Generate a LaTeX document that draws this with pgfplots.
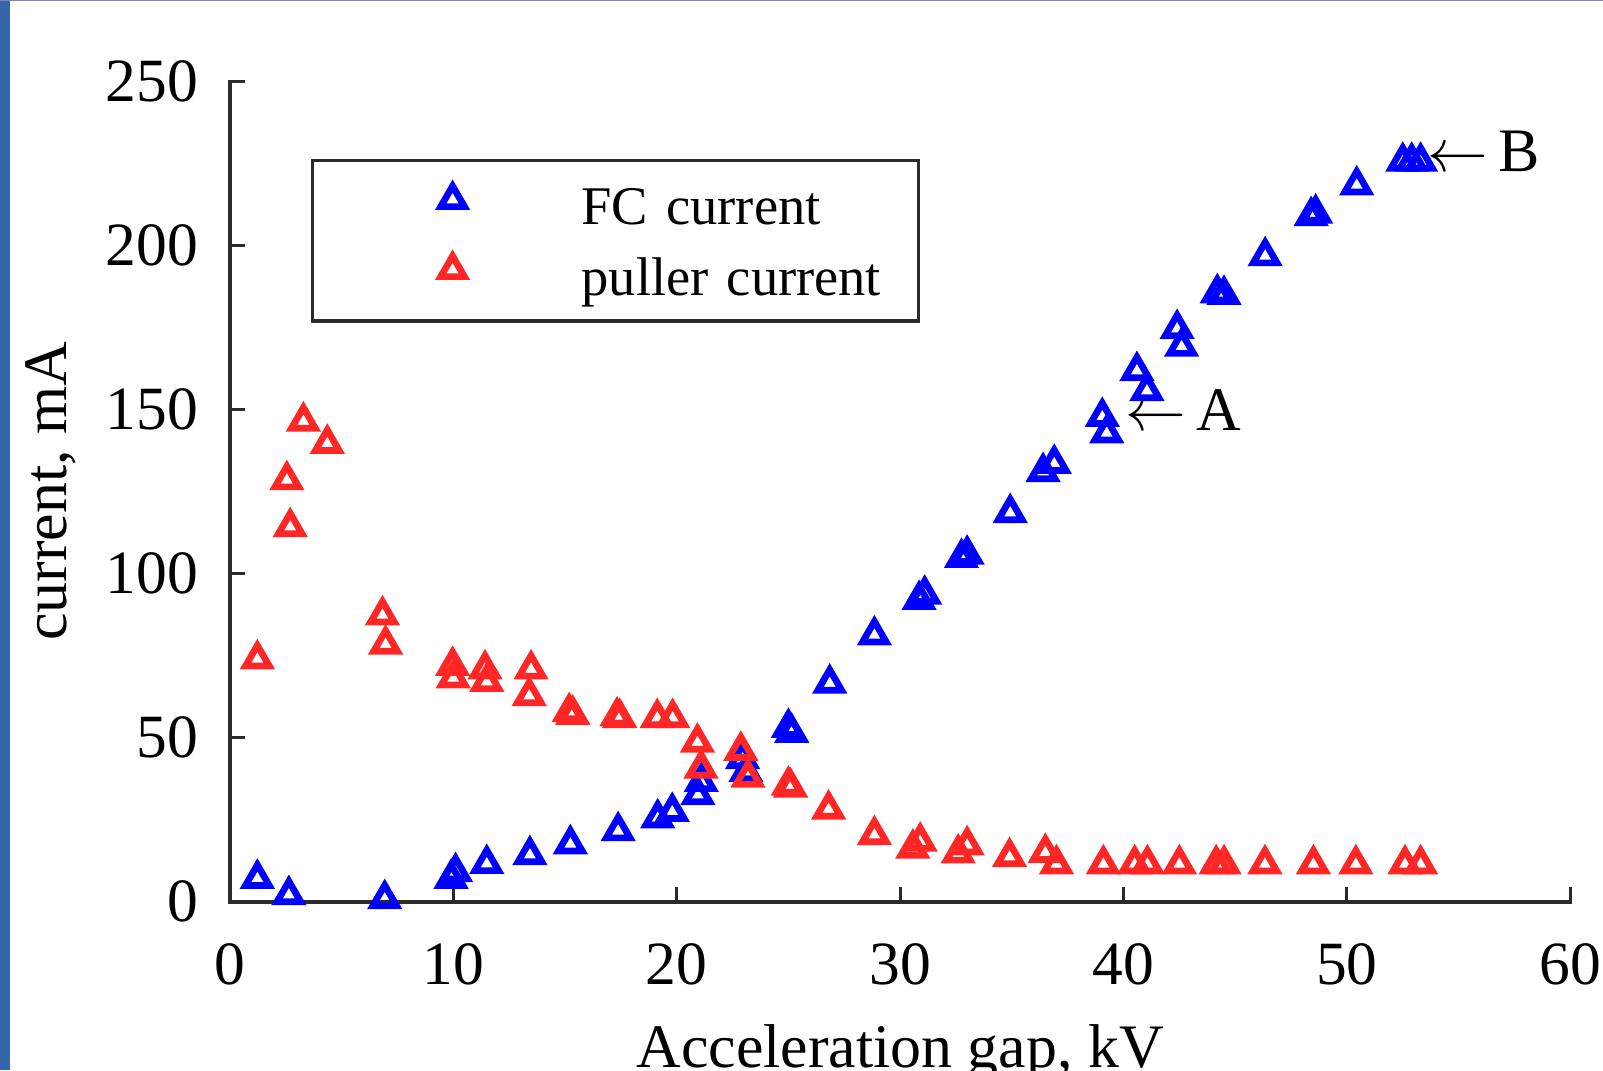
\documentclass[border=0pt]{standalone}
\usepackage{fontspec}
\setmainfont{Liberation Serif}
\usepackage{pgfplots}
\pgfplotsset{compat=1.18}
\definecolor{fcblue}{RGB}{0,0,255}
\definecolor{pulred}{RGB}{255,38,38}
\definecolor{axisgray}{RGB}{43,43,43}
\definecolor{barblue}{RGB}{52,102,168}
\definecolor{toppurple}{RGB}{140,125,190}

\pgfplotstableread{
x y
1.23 7.0
2.64 2.0
6.93 0.8
9.9 7.0
10.1 9.0
11.5 11.5
13.43 14.2
15.24 17.5
17.38 21.5
19.15 25.4
19.8 27.4
20.95 32.5
21.1 36.5
22.95 43.5
23.1 39.5
25.0 53.0
25.15 51.5
26.85 66.5
28.85 81.2
30.85 92.0
31.1 93.6
32.75 104.8
33.0 105.8
34.93 118.5
36.4 131.0
36.9 133.5
39.05 147.8
39.25 142.8
40.6 161.8
41.05 155.7
42.4 174.6
42.6 169.2
44.2 185.5
44.5 185.0
46.34 196.8
48.4 209.0
48.6 209.8
50.44 218.4
52.5 225.6
52.9 225.6
53.3 225.6
}\fctable

\pgfplotstableread{
x y
1.23 73.9
2.55 128.5
2.7 114.2
3.29 146.4
4.36 139.6
6.83 87.3
6.97 78.4
9.97 71.9
10.0 68.1
11.42 70.8
11.5 67.0
13.48 70.8
13.4 62.7
15.19 57.8
15.35 57.0
17.33 56.5
17.45 56.0
19.13 56.0
19.82 56.0
20.93 48.5
21.09 40.6
22.87 46.0
23.19 37.8
25.0 35.4
25.1 34.8
26.8 28.1
28.85 20.3
30.57 16.2
30.9 18.3
32.6 14.7
33.0 17.2
34.9 13.6
36.5 14.9
37.0 11.4
39.1 11.4
40.5 11.4
41.07 11.4
42.5 11.4
44.15 11.4
44.5 11.4
46.33 11.4
48.5 11.4
50.4 11.4
52.6 11.4
53.3 11.4
}\pultable

\begin{document}
\begin{tikzpicture}
\begin{axis}[
  at={(0,0)}, anchor=south west,
  scale only axis, width=13.404cm, height=8.2cm,
  xmin=0, xmax=60, ymin=0, ymax=250,
  clip=false,
  axis x line*=bottom, axis y line*=left,
  axis line style={draw=axisgray, line width=0.04cm, line cap=rect},
  tick align=inside, major tick length=0.15cm,
  every tick/.style={draw=axisgray, line width=0.03cm},
  xtick={0,10,...,60}, ytick={0,50,...,250},
  /pgf/number format/assume math mode=true,
  ticklabel style={font=\fontsize{17.5}{21}\selectfont, inner sep=0pt},
  yticklabel style={anchor=east, xshift=-0.31cm},
  xticklabel style={anchor=north, yshift=-0.415cm},
  xlabel={Acceleration gap, kV},
  ylabel={current, mA},
  label style={font=\fontsize{17.6}{21}\selectfont, inner sep=0pt},
  xlabel style={at={(axis description cs:0.5,-0.2030)}, anchor=base},
  ylabel style={at={(axis description cs:-0.1218,0.5)}, anchor=base},
  legend cell align=left,
  legend style={at={(axis description cs:0.06162,0.90348)}, anchor=north west,
    name=lgd,
    draw=none, inner xsep=0pt, inner ysep=0.124cm,
    row sep=0.14cm, column sep=0pt,
    font=\fontsize{15.5}{19}\selectfont,
    nodes={text width=3.36cm, inner sep=0pt}},
  legend image code/.code={
    \path[draw=none, fill=none] (-1.394cm,-0.21cm) rectangle (1.29cm,0.35cm);
    \draw[#1] plot coordinates {(0cm,0.09cm)};
  },
]
\addplot[only marks, mark=triangle, mark size=3.9pt, draw=fcblue,
  mark options={draw=fcblue, fill=none, line width=1.9pt}] table[x=x,y=y] {\fctable};
\addlegendentry{FC current}
\addplot[only marks, mark=triangle, mark size=3.9pt, draw=pulred,
  mark options={draw=pulred, fill=none, line width=1.9pt}] table[x=x,y=y] {\pultable};
\addlegendentry{puller current}
\node[anchor=base west, inner sep=0pt, font=\fontsize{17.6}{21}\selectfont] at (axis cs:40.05,143.75) {$\leftarrow$\kern0.17em A};
\node[anchor=base west, inner sep=0pt, font=\fontsize{17.6}{21}\selectfont] at (axis cs:53.56,222.7) {$\leftarrow$\kern0.17em B};
\end{axis}
\draw[axisgray, line width=0.033cm] (lgd.north west) rectangle ([yshift=-0.075cm]lgd.south east);
\fill[barblue] (-2.299,-1.685) rectangle (-2.199,9.015);
\fill[toppurple] (-2.299,9.005) rectangle (13.731,9.015);
\pgfresetboundingbox
\path[use as bounding box] (-2.299,-1.685) rectangle (13.731,9.015);
\end{tikzpicture}
\end{document}
